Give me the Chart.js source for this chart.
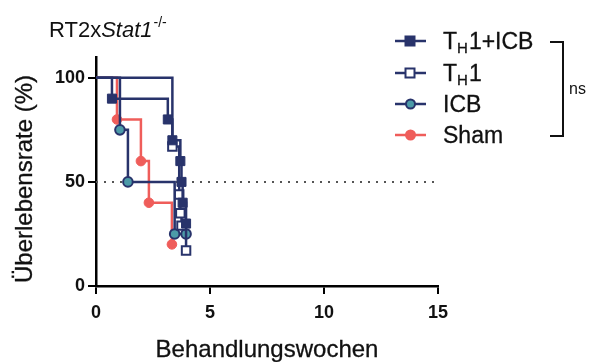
<!DOCTYPE html>
<html>
<head>
<meta charset="utf-8">
<script src="https://cdn.jsdelivr.net/npm/chart.js@4.4.1/dist/chart.umd.min.js"></script>
<style>
  html, body { margin: 0; padding: 0; background: #fff; }
  #wrap { position: relative; width: 591px; height: 362px; }
</style>
</head>
<body>
<div id="wrap"><canvas id="survivalChart" width="591" height="362"></canvas></div>
<script>
// Kaplan-Meier survival, RT2xStat1-/- (weeks of treatment vs. % survival)
const th1IcbWeeks = [0, 0.7, 3.15, 3.35, 3.7, 3.75, 3.8, 3.95];
const th1IcbSurv  = [100, 90, 80, 70, 60, 50, 40, 30];

const th1Weeks = [0, 3.35, 3.65, 3.7, 3.75, 3.95];
const th1Surv  = [100, 67, 44, 35, 29, 17];

const icbWeeks = [0, 1.05, 1.4, 3.45, 3.95];
const icbSurv  = [100, 75, 50, 25, 25];

const shamWeeks = [0, 0.92, 1.97, 2.32, 3.33];
const shamSurv  = [100, 80, 60, 40, 20];

const yTicks = [0, 50, 100];
const medianLine = 50;

const NAVY = '#28336b';
const TEAL = '#4c9ba8';
const RED = '#ef5d5a';
const FONT = '"Liberation Sans", Arial, sans-serif';

function pts(xs, ys) {
  return xs.map((x, i) => ({ x: x, y: ys[i] }));
}
// no marker on the starting point at 100 %
function radii(xs, r) {
  return xs.map((x, i) => (i === 0 ? 0 : r));
}

const legendItems = [
  { main: 'T', sub: 'H', rest: '1+ICB', style: 'rect', fill: NAVY, line: NAVY, r: 6 },
  { main: 'T', sub: 'H', rest: '1', style: 'rect', fill: '#fff', line: NAVY, r: 6 },
  { main: 'ICB', sub: '', rest: '', style: 'circle', fill: TEAL, line: NAVY, r: 4.5 },
  { main: 'Sham', sub: '', rest: '', style: 'circle', fill: RED, line: RED, r: 4.5 }
];

// slightly heavier text, like the reference export
function heavyText(ctx, s, x, y, w) {
  ctx.fillText(s, x, y);
  ctx.lineWidth = w;
  ctx.strokeStyle = ctx.fillStyle;
  ctx.strokeText(s, x, y);
}

const textPlugin = {
  id: 'textPlugin',
  afterDraw(chart) {
    const ctx = chart.ctx;
    ctx.save();
    ctx.fillStyle = '#111';
    ctx.textBaseline = 'alphabetic';

    // title
    ctx.font = '22px ' + FONT;
    let x = 49;
    ctx.fillText('RT2x', x, 37);
    x += ctx.measureText('RT2x').width;
    ctx.font = 'italic 22px ' + FONT;
    ctx.fillText('Stat1', x, 37);
    x += ctx.measureText('Stat1').width + 1;
    ctx.font = '14px ' + FONT;
    ctx.fillText('-/-', x, 27);

    // axis titles
    ctx.font = '24px ' + FONT;
    ctx.textAlign = 'center';
    heavyText(ctx, 'Behandlungswochen', 267, 357, 0.3);
    ctx.save();
    ctx.translate(32, 179);
    ctx.rotate(-Math.PI / 2);
    heavyText(ctx, 'Überlebensrate (%)', 0, 0, 0.3);
    ctx.restore();

    // legend
    ctx.textAlign = 'left';
    const rows = [41, 73, 104, 135];
    legendItems.forEach((it, i) => {
      const y = rows[i];
      ctx.strokeStyle = it.line;
      ctx.lineWidth = 2.5;
      ctx.beginPath();
      ctx.moveTo(395, y);
      ctx.lineTo(426, y);
      ctx.stroke();
      ctx.fillStyle = it.fill;
      ctx.lineWidth = 2;
      ctx.beginPath();
      if (it.style === 'rect') {
        ctx.rect(405.5, y - 4.5, 9, 9);
      } else {
        ctx.arc(410.5, y, it.r, 0, Math.PI * 2);
      }
      ctx.fill();
      ctx.stroke();

      ctx.fillStyle = '#111';
      let tx = 443;
      const by = y + 8;
      ctx.font = '23px ' + FONT;
      heavyText(ctx, it.main, tx, by, 0.3);
      tx += ctx.measureText(it.main).width;
      if (it.sub) {
        ctx.font = '15px ' + FONT;
        heavyText(ctx, it.sub, tx, by + 4, 0.3);
        tx += ctx.measureText(it.sub).width + 1;
        ctx.font = '23px ' + FONT;
        heavyText(ctx, it.rest, tx, by, 0.3);
      }
    });

    // significance bracket
    ctx.strokeStyle = '#111';
    ctx.lineWidth = 2;
    ctx.beginPath();
    ctx.moveTo(550, 42);
    ctx.lineTo(563, 42);
    ctx.lineTo(563, 136);
    ctx.lineTo(550, 136);
    ctx.stroke();
    ctx.font = '16px ' + FONT;
    ctx.fillText('ns', 569, 94);
    ctx.restore();
  }
};

const ctx = document.getElementById('survivalChart');
new Chart(ctx, {
  type: 'line',
  data: {
    datasets: [
      {
        label: 'TH1+ICB',
        data: pts(th1IcbWeeks, th1IcbSurv),
        stepped: true,
        borderColor: NAVY,
        borderWidth: 2.5,
        pointStyle: 'rect',
        pointRadius: radii(th1IcbWeeks, 6.4),
        pointBackgroundColor: NAVY,
        pointBorderColor: NAVY,
        pointBorderWidth: 1
      },
      {
        label: 'TH1',
        data: pts(th1Weeks, th1Surv),
        stepped: true,
        borderColor: NAVY,
        borderWidth: 2.5,
        pointStyle: 'rect',
        pointRadius: radii(th1Weeks, 6),
        pointBackgroundColor: '#fff',
        pointBorderColor: NAVY,
        pointBorderWidth: 2
      },
      {
        label: 'ICB',
        data: pts(icbWeeks, icbSurv),
        stepped: true,
        borderColor: NAVY,
        borderWidth: 2.5,
        pointStyle: 'circle',
        pointRadius: radii(icbWeeks, 4.8),
        pointBackgroundColor: TEAL,
        pointBorderColor: NAVY,
        pointBorderWidth: 2
      },
      {
        label: 'Sham',
        data: pts(shamWeeks, shamSurv),
        stepped: true,
        borderColor: RED,
        borderWidth: 2.5,
        pointStyle: 'circle',
        pointRadius: radii(shamWeeks, 4.8),
        pointBackgroundColor: RED,
        pointBorderColor: RED,
        pointBorderWidth: 1
      },
      {
        label: 'median',
        data: [{ x: 0, y: medianLine }, { x: 15, y: medianLine }],
        borderColor: '#555',
        borderWidth: 2,
        borderDash: [2, 6],
        pointRadius: 0
      }
    ]
  },
  options: {
    responsive: false,
    devicePixelRatio: 1,
    animation: false,
    layout: { padding: { top: 57, right: 153, left: 0, bottom: 0 } },
    plugins: {
      legend: { display: false },
      tooltip: { enabled: false }
    },
    scales: {
      x: {
        type: 'linear',
        min: 0,
        max: 15,
        ticks: { stepSize: 5, color: '#111', font: { family: FONT, size: 18, weight: 'bold' }, padding: 8 },
        grid: { drawOnChartArea: false, drawTicks: true, tickLength: 8, color: '#000', lineWidth: 2 },
        border: { color: '#000', width: 2.5 },
        afterFit(scale) { scale.height = 76; }
      },
      y: {
        type: 'linear',
        min: 0,
        max: 110,
        afterBuildTicks(scale) { scale.ticks = yTicks.map(v => ({ value: v })); },
        ticks: { color: '#111', font: { family: FONT, size: 18, weight: 'bold' }, padding: 3 },
        grid: { drawOnChartArea: false, drawTicks: true, tickLength: 8, color: '#000', lineWidth: 2 },
        border: { color: '#000', width: 2.5 },
        afterFit(scale) { scale.width = 96; }
      }
    }
  },
  plugins: [textPlugin]
});
</script>
</body>
</html>
